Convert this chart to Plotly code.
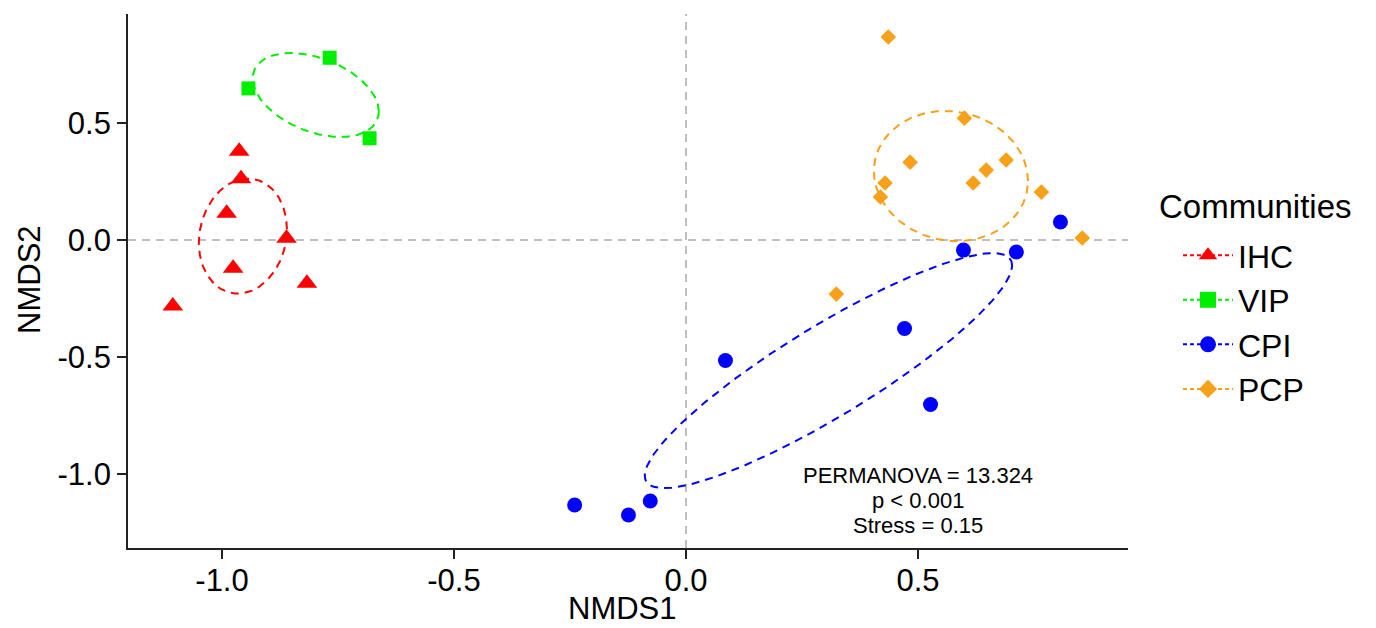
import numpy as np
import plotly.graph_objects as go

# ---------------- data ----------------
groups = ["IHC", "VIP", "CPI", "PCP"]

ihc_x = [-0.963, -0.959, -0.990, -0.861, -0.976, -0.817, -1.106]
ihc_y = [0.380, 0.262, 0.115, 0.008, -0.120, -0.185, -0.282]

vip_x = [-0.943, -0.768, -0.682]
vip_y = [0.648, 0.779, 0.435]

cpi_x = [-0.240, -0.124, -0.077, 0.085, 0.471, 0.527, 0.598, 0.712, 0.807]
cpi_y = [-1.132, -1.175, -1.115, -0.515, -0.378, -0.703, -0.043, -0.051, 0.077]

pcp_x = [0.436, 0.600, 0.483, 0.690, 0.647, 0.619, 0.429, 0.419, 0.766, 0.854, 0.324]
pcp_y = [0.868, 0.521, 0.333, 0.342, 0.299, 0.244, 0.244, 0.184, 0.205, 0.009, -0.231]

# ellipse centres and shape matrices
ell_cx = [-0.955, -0.798, 0.307, 0.571]
ell_cy = [0.017, 0.620, -0.558, 0.2735]
ell_sxx = [0.00901, 0.01847, 0.1567, 0.02756]
ell_syy = [0.0604, 0.03222, 0.2521, 0.0773]
ell_sxy = [0.0027, -0.00959, 0.1777, -0.0035]

tick_vals = [-1.0, -0.5, 0.0, 0.5]
tick_text = ["-1.0", "-0.5", "0.0", "0.5"]

stats_lines = ["PERMANOVA = 13.324", "p < 0.001", "Stress = 0.15"]
stats_y = [-1.006, -1.113, -1.220]
stats_x = 0.5

legend_title = "Communities"
x_title = "NMDS1"
y_title = "NMDS2"

# ---------------- styles ----------------
colors = {"IHC": "#FF0000", "VIP": "#00EE00", "CPI": "#0000FF", "PCP": "#F7A11A"}
symbols = {"IHC": "triangle-up", "VIP": "square", "CPI": "circle", "PCP": "diamond"}
msizes = {"IHC": 18, "VIP": 14, "CPI": 15, "PCP": 12}
FONT = "Liberation Sans, Arial, sans-serif"

pts = {"IHC": (ihc_x, ihc_y), "VIP": (vip_x, vip_y), "CPI": (cpi_x, cpi_y), "PCP": (pcp_x, pcp_y)}

fig = go.Figure()

# zero reference lines
fig.add_hline(y=0, line=dict(color="#AAAAAA", width=1.5, dash="8px,6px"), layer="below")
fig.add_vline(x=0, line=dict(color="#AAAAAA", width=1.5, dash="8px,6px"), layer="below")

t = np.linspace(0, 2 * np.pi, 241)
for i, g in enumerate(groups):
    S = np.array([[ell_sxx[i], ell_sxy[i]], [ell_sxy[i], ell_syy[i]]])
    L = np.linalg.cholesky(S)
    circ = np.vstack([np.cos(t), np.sin(t)])
    e = L @ circ
    fig.add_trace(go.Scatter(
        x=ell_cx[i] + e[0], y=ell_cy[i] + e[1], mode="lines",
        line=dict(color=colors[g], width=2, dash="8px,6px"),
        showlegend=False, hoverinfo="skip"))

for g in groups:
    x, y = pts[g]
    fig.add_trace(go.Scatter(
        x=x, y=y, mode="markers", name=g, showlegend=False,
        marker=dict(symbol=symbols[g], size=msizes[g], color=colors[g], line=dict(width=0))))

# legend entries
for g in groups:
    fig.add_trace(go.Scatter(
        x=[None], y=[None], mode="lines+markers", name=g,
        line=dict(color=colors[g], width=2, dash="4px,3px"),
        marker=dict(symbol=symbols[g], size=msizes[g] + 2, color=colors[g], line=dict(width=0))))

for txt, yy in zip(stats_lines, stats_y):
    fig.add_annotation(x=stats_x, y=yy, text=txt, showarrow=False,
                       xanchor="center", yanchor="middle", borderpad=0,
                       font=dict(family=FONT, size=22, color="black"))

# axis titles and legend title as text annotations
fig.add_annotation(xref="paper", yref="paper", x=0.494, y=-0.1124, text=x_title,
                   showarrow=False, xanchor="center", yanchor="middle",
                   font=dict(family=FONT, size=31, color="black"))
fig.add_annotation(xref="paper", yref="paper", x=-0.098, y=0.502, text=y_title,
                   showarrow=False, xanchor="center", yanchor="middle", textangle=-90,
                   font=dict(family=FONT, size=31, color="black"))
fig.add_annotation(xref="paper", yref="paper", x=1.029, y=0.6386, text=legend_title,
                   showarrow=False, xanchor="left", yanchor="middle",
                   font=dict(family=FONT, size=33, color="black"))

axis_common = dict(
    showgrid=False, zeroline=False, showline=True, linecolor="#222222", linewidth=1.8,
    ticks="outside", ticklen=9, tickwidth=1.5, tickcolor="#222222",
    tickvals=tick_vals, ticktext=tick_text,
    tickfont=dict(family=FONT, size=31, color="black"),
    mirror=False, automargin=False,
)

fig.update_layout(
    width=1376, height=628,
    margin=dict(l=128, r=248, t=14, b=80),
    paper_bgcolor="white", plot_bgcolor="white",
    font=dict(family=FONT, color="black"),
    xaxis=dict(range=[-1.2026, 0.9526], ticklabelstandoff=-5, **axis_common),
    yaxis=dict(range=[-1.316, 0.966], **axis_common),
    legend=dict(
        font=dict(family=FONT, size=32, color="black"),
        x=1.050, xanchor="left", y=0.5995, yanchor="top",
        bgcolor="rgba(0,0,0,0)", itemwidth=50, tracegroupgap=0,
    ),
)

fig.write_html("out.html")
